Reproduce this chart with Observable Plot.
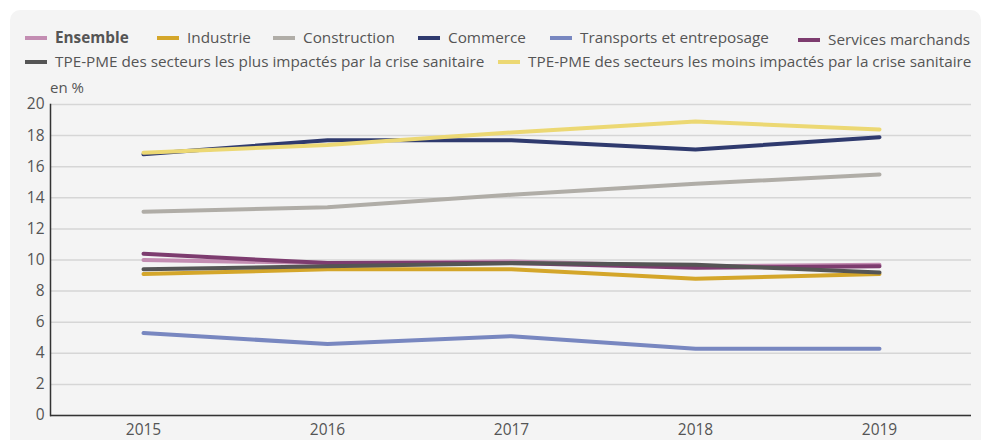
<!DOCTYPE html>
<html>
<head>
<meta charset="utf-8">
<script src="https://cdn.jsdelivr.net/npm/d3@7"></script>
<script src="https://cdn.jsdelivr.net/npm/@observablehq/plot@0.6"></script>
<style>
  html, body { margin: 0; padding: 0; background: #fff; width: 983px; height: 440px; overflow: hidden; font-family: "Open Sans", sans-serif; }
  #panel { position: absolute; left: 10px; top: 10px; width: 971px; height: 460px; background: #f4f4f4; border-radius: 10px; }
  .leg { position: absolute; font-size: 15.3px; color: #555; white-space: nowrap; line-height: 18px; }
  .sw { display: inline-block; width: 22px; height: 4px; vertical-align: middle; margin-right: 8px; position: relative; top: -1px; }
  #chart { position: absolute; left: 0; top: 0; }
  #unit { position: absolute; left: 50px; top: 77px; font-size: 15px; color: #555; }
</style>
</head>
<body>
<div id="panel"></div>
<div id="legend"></div>
<div id="unit">en %</div>
<div id="chart"></div>
<script>
const years = [2015, 2016, 2017, 2018, 2019];
const seriesNames = [
  "Ensemble", "Industrie", "Construction", "Commerce", "Transports et entreposage",
  "Services marchands", "TPE-PME des secteurs les plus impactés par la crise sanitaire",
  "TPE-PME des secteurs les moins impactés par la crise sanitaire"
];
const seriesColors = ["#c38db2", "#d4a62a", "#b0ada7", "#2f3a6e", "#7887c0", "#7d3c6f", "#555555", "#ecd873"];
const ensemble = [10.0, 9.8, 9.9, 9.6, 9.7];
const industrie = [9.1, 9.4, 9.4, 8.8, 9.1];
const construction = [13.1, 13.4, 14.2, 14.9, 15.5];
const commerce = [16.8, 17.7, 17.7, 17.1, 17.9];
const transports = [5.3, 4.6, 5.1, 4.3, 4.3];
const services = [10.4, 9.8, 9.8, 9.5, 9.6];
const tpePlus = [9.4, 9.6, 9.8, 9.7, 9.2];
const tpeMoins = [16.9, 17.4, 18.2, 18.9, 18.4];
const yTicks = [0, 2, 4, 6, 8, 10, 12, 14, 16, 18, 20];

const allSeries = [ensemble, industrie, construction, commerce, transports, services, tpePlus, tpeMoins];
const data = [];
allSeries.forEach((vals, i) => vals.forEach((v, j) => data.push({ serie: seriesNames[i], year: String(years[j]), value: v })));

// Legend
const legendPos = [
  [25, 28], [157, 28], [273, 28], [418, 28], [550, 28], [798, 30], [25, 52], [498, 52]
];
const legend = document.getElementById("legend");
seriesNames.forEach((n, i) => {
  const d = document.createElement("div");
  d.className = "leg";
  d.style.left = legendPos[i][0] + "px";
  d.style.top = legendPos[i][1] + "px";
  const sw = document.createElement("span");
  sw.className = "sw";
  sw.style.background = seriesColors[i];
  d.appendChild(sw);
  const t = document.createElement("span");
  t.textContent = n;
  if (i === 0) t.style.fontWeight = "bold";
  d.appendChild(t);
  legend.appendChild(d);
});

const chart = Plot.plot({
  width: 983,
  height: 440,
  marginTop: 104,
  marginBottom: 25,
  marginLeft: 50,
  marginRight: 12,
  style: { background: "transparent", fontFamily: "Open Sans, sans-serif", fontSize: "15px", color: "#555" },
  x: { type: "point", domain: years.map(String), padding: 0.5, label: null },
  y: { domain: [0, 20], label: null },
  color: { domain: seriesNames, range: seriesColors },
  marks: [
    Plot.gridY(yTicks, { stroke: "#d6d6d6", strokeOpacity: 1, strokeWidth: 1.5 }),
    Plot.axisY(yTicks, { tickSize: 0, tickPadding: 6, fontSize: 15.5, fill: "#555", label: null }),
    Plot.axisX({ tickSize: 0, tickPadding: 8, fontSize: 15.5, fill: "#555", label: null }),
    Plot.frame({ anchor: "left", stroke: "#333", strokeWidth: 1.5 }),
    Plot.ruleY([0], { stroke: "#333", strokeWidth: 1.5 }),
    Plot.line(data, { x: "year", y: "value", z: "serie", stroke: "serie", strokeWidth: 4, curve: "linear", strokeLinecap: "round", strokeLinejoin: "round" })
  ]
});
document.getElementById("chart").appendChild(chart);
</script>
</body>
</html>
